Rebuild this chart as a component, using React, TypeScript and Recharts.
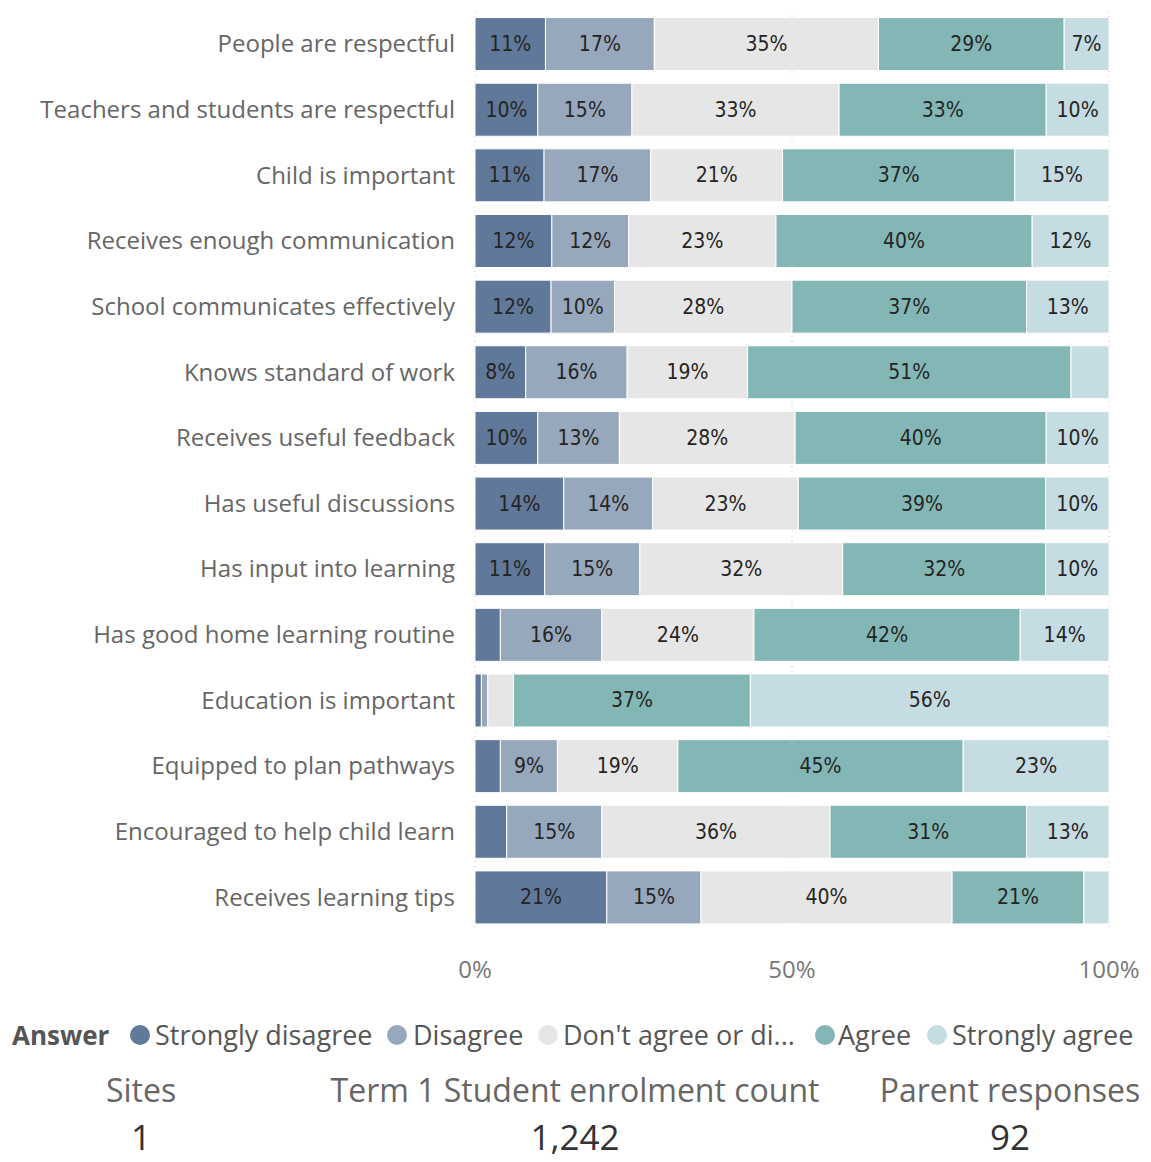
import React from "react";
import { BarChart, Bar, XAxis, YAxis, CartesianGrid, LabelList } from "recharts";

const categories = [
  "People are respectful",
  "Teachers and students are respectful",
  "Child is important",
  "Receives enough communication",
  "School communicates effectively",
  "Knows standard of work",
  "Receives useful feedback",
  "Has useful discussions",
  "Has input into learning",
  "Has good home learning routine",
  "Education is important",
  "Equipped to plan pathways",
  "Encouraged to help child learn",
  "Receives learning tips",
];

const stronglyDisagree = [11, 10, 11, 12, 12, 8, 10, 14, 11, 4, 1, 4, 5, 21];
const disagree = [17, 15, 17, 12, 10, 16, 13, 14, 15, 16, 1, 9, 15, 15];
const neutral = [35, 33, 21, 23, 28, 19, 28, 23, 32, 24, 4, 19, 36, 40];
const agree = [29, 33, 37, 40, 37, 51, 40, 39, 32, 42, 37, 45, 31, 21];
const stronglyAgree = [7, 10, 15, 12, 13, 6, 10, 10, 10, 14, 56, 23, 13, 4];

const seriesNames = ["Strongly disagree", "Disagree", "Don't agree or di...", "Agree", "Strongly agree"];
const seriesKeys = ["sd", "d", "n", "a", "sa"];
const seriesColors = ["#60799a", "#97a8bd", "#e6e6e6", "#83b7b6", "#c5dce3"];
const xTicks = [0, 50, 100];

const cards = [
  { title: "Sites", value: "1" },
  { title: "Term 1 Student enrolment count", value: "1,242" },
  { title: "Parent responses", value: "92" },
];

const allSeries = [stronglyDisagree, disagree, neutral, agree, stronglyAgree];

const data = categories.map((name, i) => {
  const total = allSeries.reduce((s, arr) => s + arr[i], 0);
  const row: any = { name };
  seriesKeys.forEach((k, j) => {
    row[k] = (allSeries[j][i] / total) * 100;
    row[k + "L"] = allSeries[j][i];
  });
  return row;
});

const FONT_UI = "'Open Sans', 'Noto Sans', sans-serif";
const FONT_LBL = "'Liberation Sans Narrow', 'DejaVu Sans Condensed', sans-serif";

const makeLabel = (key: string) => (props: any) => {
  const { x, y, width, height, index } = props;
  const raw = data[index][key + "L"];
  if (raw < 7) return null;
  return (
    <text
      x={x + width / 2}
      y={y + height / 2}
      textAnchor="middle"
      dominantBaseline="central"
      fontFamily={FONT_LBL}
      fontSize={21}
      fill="#252423"
    >
      {raw}%
    </text>
  );
};

export default function App() {
  const legendPos = [
    { cx: 140, tx: 155 },
    { cx: 397, tx: 413 },
    { cx: 548, tx: 563 },
    { cx: 825, tx: 838 },
    { cx: 937, tx: 952 },
  ];
  const cardCenters = [141, 575, 1010];
  return (
    <div style={{ position: "absolute", left: 0, top: 0, width: 1151, height: 1162, background: "#fff", overflow: "hidden" }}>
      <BarChart
        width={1151}
        height={990}
        data={data}
        layout="vertical"
        margin={{ top: 11, right: 42, left: 0, bottom: 0 }}
        barCategoryGap="10%"
      >
        <CartesianGrid vertical={true} horizontal={false} stroke="#c8c8c8" strokeDasharray="1 4" />
        <XAxis
          type="number"
          domain={[0, 100]}
          ticks={xTicks}
          tickFormatter={(v) => `${v}%`}
          axisLine={false}
          tickLine={false}
          tickMargin={25}
          height={60}
          tick={{ fill: "#777", fontSize: 24, fontFamily: FONT_UI }}
        />
        <YAxis
          type="category"
          dataKey="name"
          width={475}
          axisLine={false}
          tickLine={false}
          tickMargin={14}
          interval={0}
          tick={{ fill: "#666", fontSize: 24, fontFamily: FONT_UI }}
        />
        {seriesKeys.map((k, j) => (
          <Bar key={k} dataKey={k} stackId="s" fill={seriesColors[j]} stroke="#fff" strokeWidth={1} isAnimationActive={false}>
            <LabelList dataKey={k} content={makeLabel(k)} />
          </Bar>
        ))}
      </BarChart>
      <div style={{ position: "absolute", left: 12, top: 1016, fontFamily: FONT_UI, fontWeight: 700, fontSize: 26, color: "#555", lineHeight: "38px" }}>
        Answer
      </div>
      {seriesNames.map((s, j) => (
        <React.Fragment key={s}>
          <div
            style={{
              position: "absolute",
              left: legendPos[j].cx - 10,
              top: 1025,
              width: 20,
              height: 20,
              borderRadius: 10,
              background: seriesColors[j],
            }}
          />
          <div style={{ position: "absolute", left: legendPos[j].tx, top: 1016, fontFamily: FONT_UI, fontSize: 27, color: "#555", lineHeight: "38px", whiteSpace: "nowrap" }}>
            {s}
          </div>
        </React.Fragment>
      ))}
      {cards.map((c, i) => (
        <React.Fragment key={c.title}>
          <div style={{ position: "absolute", left: cardCenters[i] - 300, width: 600, top: 1069, textAlign: "center", fontFamily: FONT_UI, fontSize: 32, color: "#666", lineHeight: "42px", whiteSpace: "nowrap" }}>
            {c.title}
          </div>
          <div style={{ position: "absolute", left: cardCenters[i] - 300, width: 600, top: 1114, textAlign: "center", fontFamily: FONT_UI, fontSize: 35, color: "#333", lineHeight: "46px" }}>
            {c.value}
          </div>
        </React.Fragment>
      ))}
    </div>
  );
}
